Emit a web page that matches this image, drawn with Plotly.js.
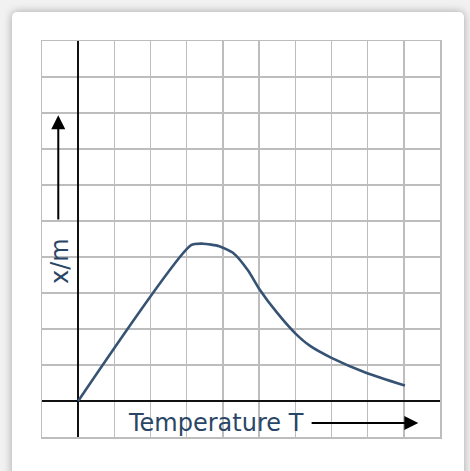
<!DOCTYPE html>
<html>
<head>
<meta charset="utf-8">
<script src="https://cdn.plot.ly/plotly-3.0.1.min.js"></script>
<style>
  html, body { margin: 0; padding: 0; background: #f1f1f1; width: 470px; height: 471px; overflow: hidden; }
  #card { position: absolute; left: 12px; top: 12px; width: 452px; height: 470px; background: #ffffff;
          border-radius: 5px; box-shadow: 0 0 8px rgba(0,0,0,0.32); }
  #chart { position: absolute; left: 0; top: 0; width: 470px; height: 471px; }
</style>
</head>
<body>
<div id="card"></div>
<div id="chart"></div>
<script>
// Temperature (grid units) and adsorption x/m (grid units)
const temperature = [0, 3.12, 3.45, 3.9, 4.3, 4.7, 5.0, 5.49, 6.0, 6.41, 7.0, 7.97, 9.03];
const adsorption  = [0, 4.33, 4.37, 4.3, 4.1, 3.62, 3.12, 2.46, 1.88, 1.53, 1.2, 0.78, 0.43];
const xLabel = "Temperature T";
const yLabel = "x/m";

const textColor = "#2a4666";
const lineColor = "#365373";

const trace = {
  x: temperature, y: adsorption, type: "scatter", mode: "lines",
  line: { color: lineColor, width: 2.6, shape: "spline", smoothing: 0.6 },
  hoverinfo: "skip"
};

const axisCommon = {
  range: [-1, 10], dtick: 1, tick0: 0, showticklabels: false, ticks: "",
  showgrid: true, gridcolor: "#bdbdbd", gridwidth: 1.5,
  zeroline: true, zerolinecolor: "#111111", zerolinewidth: 2,
  showline: true, linecolor: "#bdbdbd", linewidth: 1.5, mirror: true,
  fixedrange: true
};

const layout = {
  width: 470, height: 471,
  margin: { l: 42, r: 30, t: 41, b: 34 },
  paper_bgcolor: "rgba(0,0,0,0)", plot_bgcolor: "rgba(0,0,0,0)",
  showlegend: false,
  xaxis: Object.assign({}, axisCommon),
  yaxis: Object.assign({}, axisCommon),
  annotations: [
    { x: 3.81, y: -0.61, xref: "x", yref: "y", text: xLabel, showarrow: false,
      font: { family: "DejaVu Sans, Verdana, sans-serif", size: 24, color: textColor },
      xanchor: "center", yanchor: "middle" },
    { x: -0.5, y: 3.89, xref: "x", yref: "y", text: yLabel, showarrow: false, textangle: -90,
      font: { family: "DejaVu Sans, Verdana, sans-serif", size: 24, color: textColor },
      xanchor: "center", yanchor: "middle" },
    { x: 9.4, y: -0.61, ax: 6.41, ay: -0.61, xref: "x", yref: "y", axref: "x", ayref: "y",
      text: "", showarrow: true, arrowhead: 2, arrowsize: 1.4, arrowwidth: 2, arrowcolor: "#000000" },
    { x: -0.55, y: 7.94, ax: -0.55, ay: 5.0, xref: "x", yref: "y", axref: "x", ayref: "y",
      text: "", showarrow: true, arrowhead: 2, arrowsize: 1.4, arrowwidth: 2, arrowcolor: "#000000" }
  ]
};

Plotly.newPlot("chart", [trace], layout, { staticPlot: true, displayModeBar: false });
</script>
</body>
</html>
